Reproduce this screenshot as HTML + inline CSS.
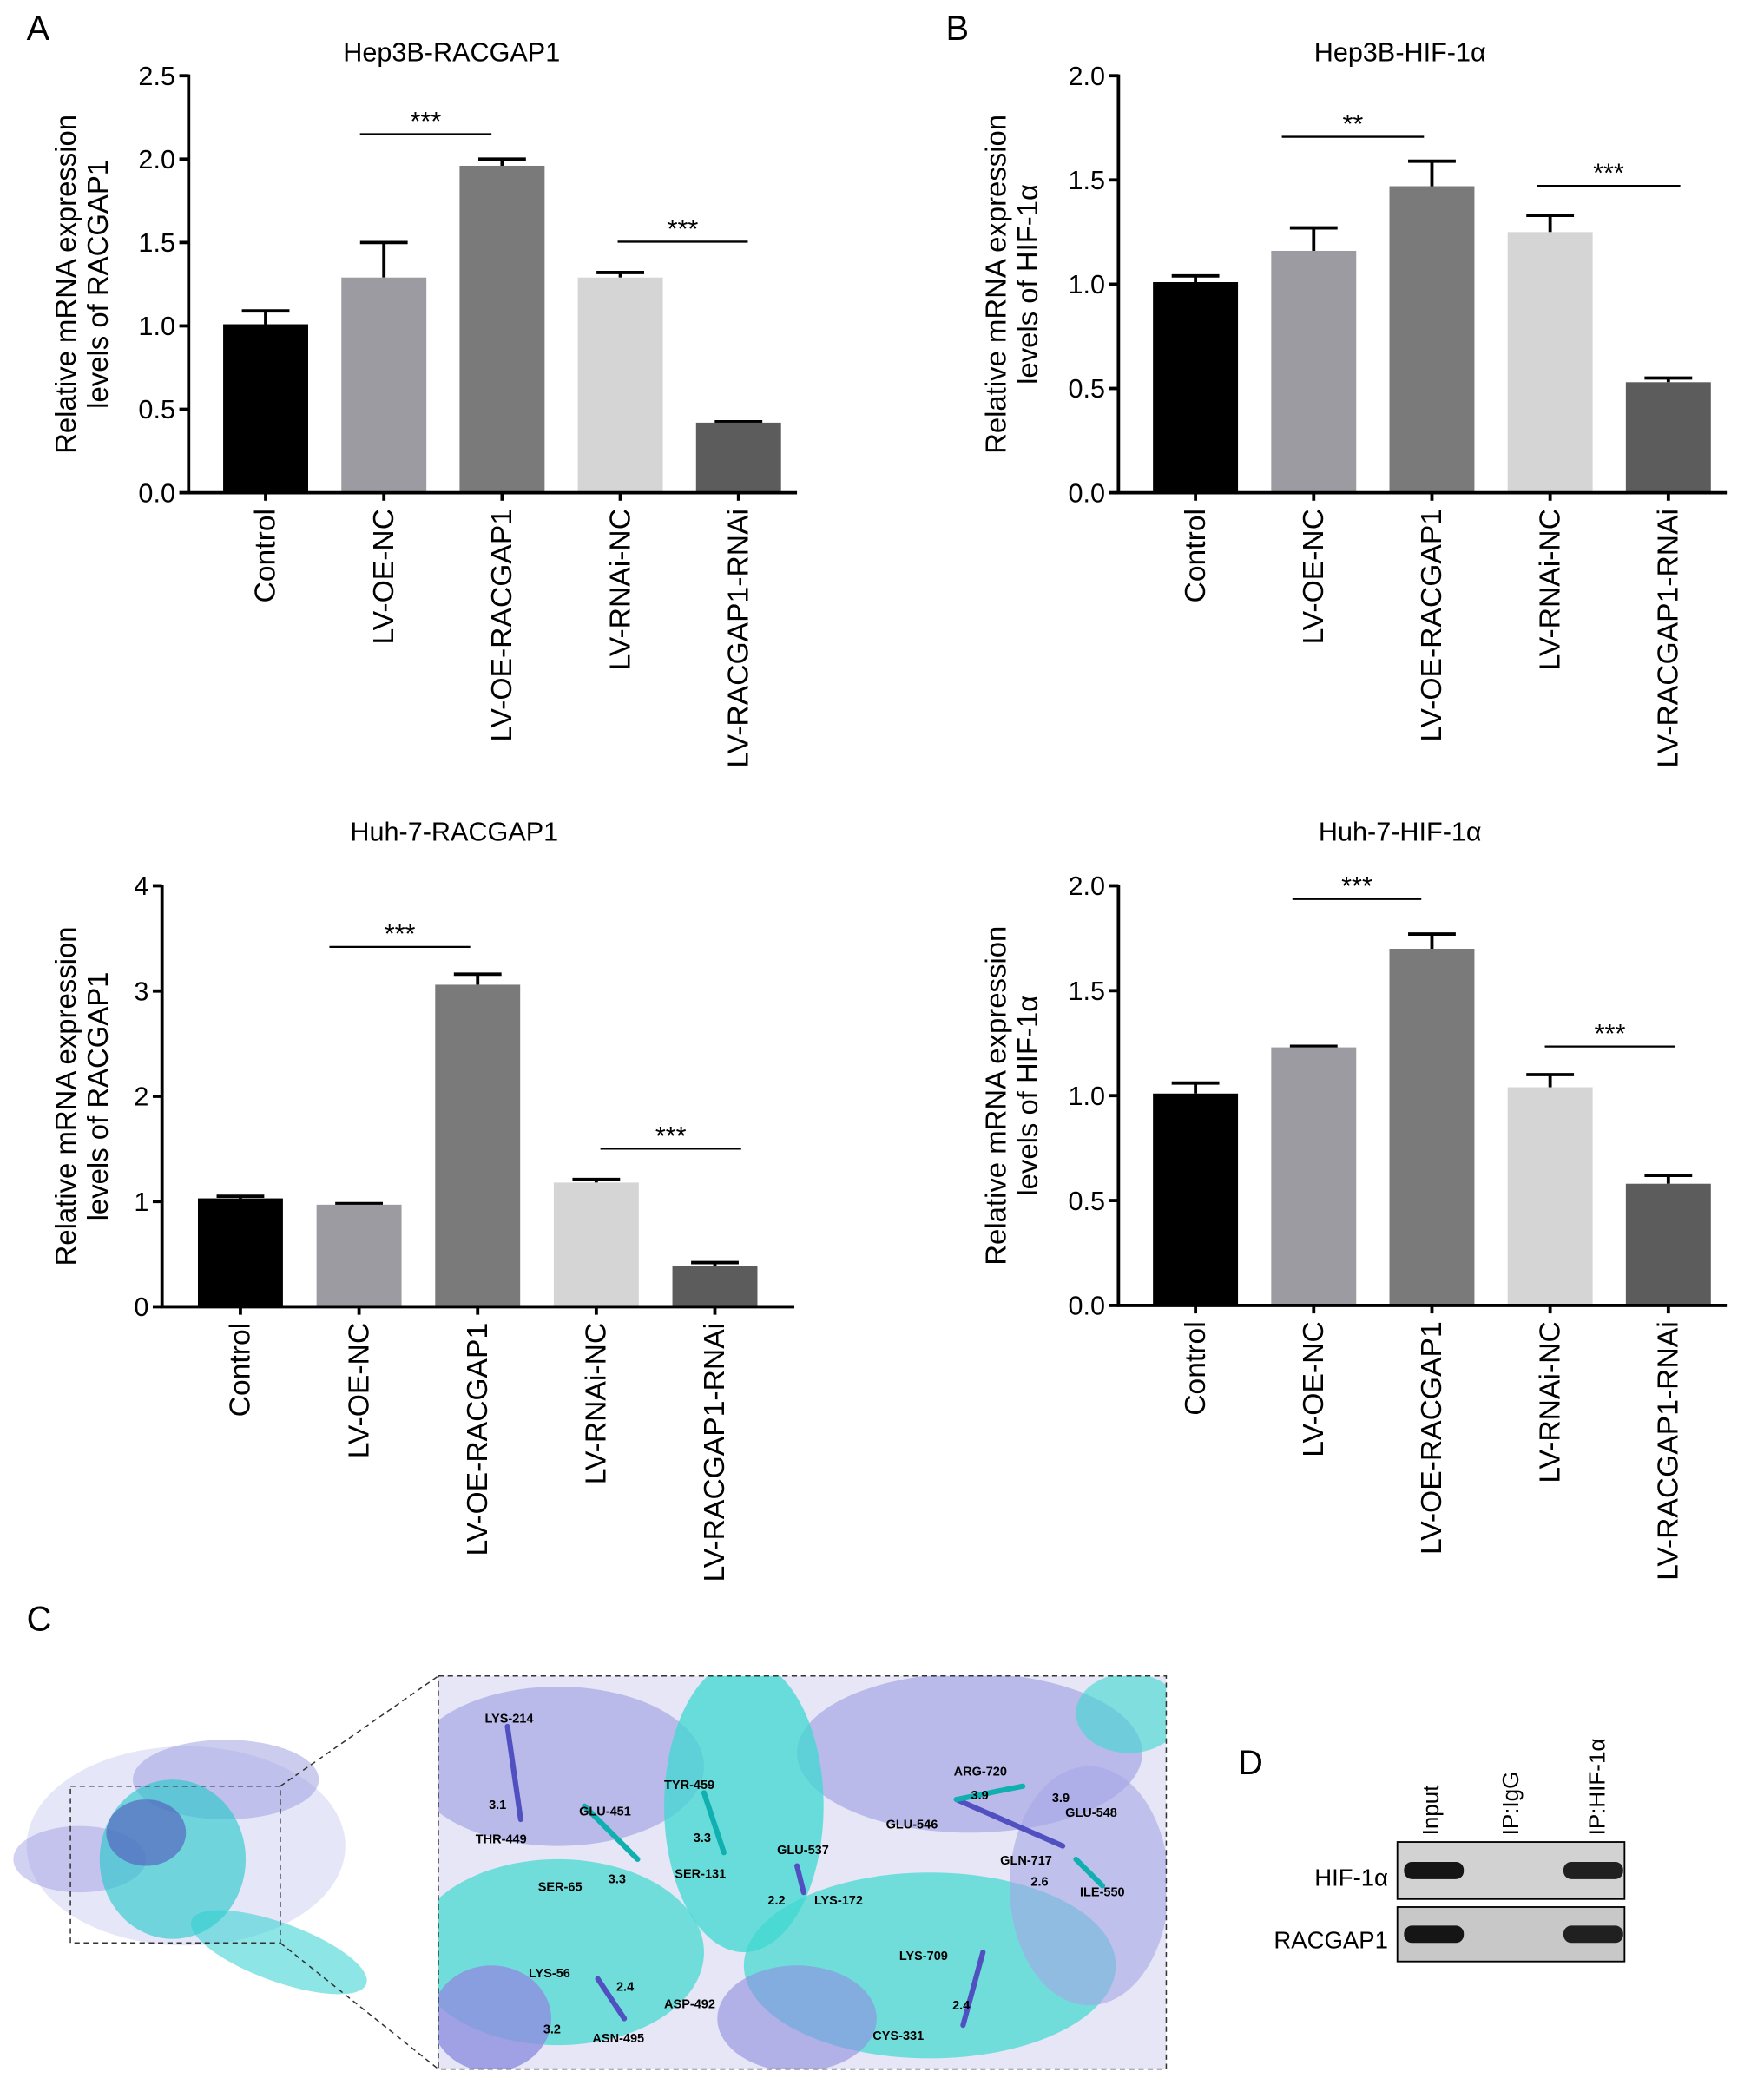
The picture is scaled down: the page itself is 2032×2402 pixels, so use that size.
<!DOCTYPE html>
<html>
<head>
<meta charset="utf-8">
<style>
html,body{margin:0;padding:0;background:#fff;}
svg{display:block;}
text{font-family:"Liberation Sans",sans-serif;fill:#000;}
</style>
</head>
<body>
<svg id="fig" width="2032" height="2402" viewBox="0 0 1328 1570" preserveAspectRatio="none" xmlns="http://www.w3.org/2000/svg">
  <rect x="0" y="0" width="1328" height="1570" fill="#fff"/>
  <text x="20" y="30" font-size="26">A</text>
  <text x="712" y="30" font-size="26">B</text>
  <text x="20" y="1228" font-size="26">C</text>
  <text x="932" y="1336" font-size="26">D</text>
  <g id="charts"></g>

  <!-- Panel C -->
  <g>
    <ellipse cx="140" cy="1390" rx="120" ry="75" fill="#b8b8ee" opacity="0.35"/>
    <ellipse cx="170" cy="1340" rx="70" ry="30" fill="#9a9ae0" opacity="0.5"/>
    <ellipse cx="60" cy="1400" rx="50" ry="25" fill="#9a9ae0" opacity="0.45"/>
    <ellipse cx="130" cy="1400" rx="55" ry="60" fill="#20c8c8" opacity="0.6"/>
    <ellipse cx="210" cy="1470" rx="70" ry="22" fill="#30d0d0" opacity="0.55" transform="rotate(20 210 1470)"/>
    <ellipse cx="110" cy="1380" rx="30" ry="25" fill="#5555bb" opacity="0.6"/>
    <rect x="53" y="1345" width="158" height="118" fill="none" stroke="#333" stroke-dasharray="4,3" stroke-width="1"/>
    <line x1="211" y1="1345" x2="330" y2="1262" stroke="#333" stroke-dasharray="4,3"/>
    <line x1="211" y1="1463" x2="330" y2="1558" stroke="#333" stroke-dasharray="4,3"/>
  </g>
  <g>
    <defs><clipPath id="zc"><rect x="330" y="1262" width="548" height="296"/></clipPath></defs>
    <g clip-path="url(#zc)">
      <rect x="330" y="1262" width="548" height="296" fill="#e6e6f6"/>
      <ellipse cx="420" cy="1330" rx="110" ry="60" fill="#a6a6e6" opacity="0.7"/>
      <ellipse cx="730" cy="1320" rx="130" ry="60" fill="#a6a6e6" opacity="0.7"/>
      <ellipse cx="560" cy="1360" rx="60" ry="110" fill="#3ed8d0" opacity="0.75"/>
      <ellipse cx="420" cy="1470" rx="110" ry="70" fill="#3ed8d0" opacity="0.7"/>
      <ellipse cx="700" cy="1480" rx="140" ry="70" fill="#3ed8d0" opacity="0.7"/>
      <ellipse cx="820" cy="1420" rx="60" ry="90" fill="#a6a6e6" opacity="0.6"/>
      <ellipse cx="370" cy="1520" rx="45" ry="40" fill="#8e8ee0" opacity="0.8"/>
      <ellipse cx="600" cy="1520" rx="60" ry="40" fill="#8e8ee0" opacity="0.6"/>
      <ellipse cx="850" cy="1290" rx="40" ry="30" fill="#3ed8d0" opacity="0.6"/>
      <g stroke-width="4" stroke-linecap="round">
        <line x1="382" y1="1300" x2="392" y2="1370" stroke="#5050c0"/>
        <line x1="440" y1="1360" x2="480" y2="1400" stroke="#10b0b0"/>
        <line x1="530" y1="1350" x2="545" y2="1395" stroke="#10b0b0"/>
        <line x1="600" y1="1405" x2="605" y2="1425" stroke="#5050c0"/>
        <line x1="720" y1="1355" x2="800" y2="1390" stroke="#5050c0"/>
        <line x1="720" y1="1355" x2="770" y2="1345" stroke="#10b0b0"/>
        <line x1="450" y1="1490" x2="470" y2="1520" stroke="#5050c0"/>
        <line x1="740" y1="1470" x2="725" y2="1525" stroke="#5050c0"/>
        <line x1="810" y1="1400" x2="830" y2="1420" stroke="#10b0b0"/>
      </g>
      <g font-size="9.5" font-weight="bold">
        <text x="365" y="1297">LYS-214</text><text x="368" y="1362">3.1</text>
        <text x="358" y="1388">THR-449</text><text x="436" y="1367">GLU-451</text>
        <text x="405" y="1424">SER-65</text><text x="458" y="1418">3.3</text>
        <text x="500" y="1347">TYR-459</text><text x="522" y="1387">3.3</text>
        <text x="508" y="1414">SER-131</text><text x="585" y="1396">GLU-537</text>
        <text x="578" y="1434">2.2</text><text x="613" y="1434">LYS-172</text>
        <text x="718" y="1337">ARG-720</text><text x="731" y="1355">3.9</text>
        <text x="792" y="1357">3.9</text><text x="802" y="1368">GLU-548</text>
        <text x="667" y="1377">GLU-546</text><text x="753" y="1404">GLN-717</text>
        <text x="776" y="1420">2.6</text><text x="813" y="1428">ILE-550</text>
        <text x="398" y="1489">LYS-56</text><text x="464" y="1499">2.4</text>
        <text x="500" y="1512">ASP-492</text><text x="409" y="1531">3.2</text>
        <text x="446" y="1538">ASN-495</text><text x="677" y="1476">LYS-709</text>
        <text x="717" y="1513">2.4</text><text x="657" y="1536">CYS-331</text>
      </g>
    </g>
    <rect x="330" y="1262" width="548" height="296" fill="none" stroke="#333" stroke-dasharray="4,3"/>
  </g>

  <!-- Panel D -->
  <g>
    <text x="1083" y="1382" font-size="17" transform="rotate(-90 1083 1382)">Input</text>
    <text x="1143" y="1382" font-size="17" transform="rotate(-90 1143 1382)">IP:IgG</text>
    <text x="1208" y="1382" font-size="17" transform="rotate(-90 1208 1382)">IP:HIF-1α</text>
    <text x="1045" y="1420" font-size="18" text-anchor="end">HIF-1α</text>
    <text x="1045" y="1467" font-size="18" text-anchor="end">RACGAP1</text>
    <rect x="1052" y="1387" width="171" height="43" fill="#d2d2d2" stroke="#000" stroke-width="1.2"/>
    <rect x="1052" y="1436" width="171" height="41" fill="#c8c8c8" stroke="#000" stroke-width="1.2"/>
    <rect x="1057" y="1402" width="45" height="13" rx="6" fill="#151515"/>
    <rect x="1177" y="1402" width="45" height="13" rx="6" fill="#202020"/>
    <rect x="1057" y="1450" width="45" height="13" rx="6" fill="#151515"/>
    <rect x="1177" y="1450" width="45" height="13" rx="6" fill="#202020"/>
  </g>
</svg>
<script>
const catLabels = ["Control","LV-OE-NC","LV-OE-RACGAP1","LV-RNAi-NC","LV-RACGAP1-RNAi"];
const barColors = ["#000000","#9b9ba1","#7a7a7a","#d5d5d5","#5c5c5c"];

const aVals = [1.01, 1.29, 1.96, 1.29, 0.42];
const aErrs = [0.08, 0.21, 0.04, 0.03, 0.005];
const aTicks = ["0.0","0.5","1.0","1.5","2.0","2.5"];
const bVals = [1.01, 1.16, 1.47, 1.25, 0.53];
const bErrs = [0.03, 0.11, 0.12, 0.08, 0.02];
const bTicks = ["0.0","0.5","1.0","1.5","2.0"];
const cVals = [1.03, 0.97, 3.06, 1.18, 0.39];
const cErrs = [0.02, 0.01, 0.10, 0.03, 0.03];
const cTicks = ["0","1","2","3","4"];
const dVals = [1.01, 1.23, 1.70, 1.04, 0.58];
const dErrs = [0.05, 0.005, 0.07, 0.06, 0.04];
const dTicks = ["0.0","0.5","1.0","1.5","2.0"];

const NS = "http://www.w3.org/2000/svg";
const root = document.getElementById("charts");
function mk(tag, attrs, parent){
  const e = document.createElementNS(NS, tag);
  for (const k in attrs) e.setAttribute(k, attrs[k]);
  parent.appendChild(e);
  return e;
}

function chart(cfg){
  const g = mk("g", {}, root);
  
  
  const tickVals = cfg.ticks.map(Number);
  const maxV = tickVals[tickVals.length-1];
  const y = v => cfg.y0 - (v / maxV) * (cfg.y0 - cfg.yTop);
  const x = i => cfg.x0 + cfg.firstOff + i * cfg.step;
  const bw = 64;
  cfg.vals.forEach((v,i)=>{
    const cx = x(i);
    const top = y(v), eTop = y(v + cfg.errs[i]);
    const ln = mk("line",{x1:cx,x2:cx,y1:top,y2:eTop,stroke:"#000","stroke-width":2.5},g);
    
    
    const cap = mk("line",{x1:cx-bw*0.28,x2:cx+bw*0.28,y1:eTop,y2:eTop,stroke:"#000","stroke-width":2.5},g);
    
    
    const r = mk("rect",{x:cx-bw/2,y:top,width:bw,height:cfg.y0-top,fill:barColors[i]},g);
    
    
    const t = mk("text",{x:cx+7,y:cfg.y0+12,"font-size":22,"text-anchor":"end",transform:`rotate(-90 ${cx+7} ${cfg.y0+12})`},g);
    t.textContent = catLabels[i];
    
    
    mk("line",{x1:cx,x2:cx,y1:cfg.y0,y2:cfg.y0+6,stroke:"#000","stroke-width":2.5},g);
  });
  const ya = mk("line",{x1:cfg.x0,x2:cfg.x0,y1:cfg.yTop-1,y2:cfg.y0,stroke:"#000","stroke-width":2.5},g);
  
  
  const xa = mk("line",{x1:cfg.x0-1,x2:cfg.xEnd,y1:cfg.y0,y2:cfg.y0,stroke:"#000","stroke-width":2.5},g);
  
  
  cfg.ticks.forEach((tk,i)=>{
    const yy = y(tickVals[i]);
    mk("line",{x1:cfg.x0-7,x2:cfg.x0,y1:yy,y2:yy,stroke:"#000","stroke-width":2.5},g);
    const t = mk("text",{x:cfg.x0-10,y:yy+7,"font-size":20,"text-anchor":"end"},g);
    t.textContent = tk;
    
    
  });
  const tt = mk("text",{x:cfg.titleX,y:cfg.titleY,"font-size":20,"text-anchor":"middle"},g);
  tt.textContent = cfg.title;
  
  
  const my = (cfg.y0 + cfg.yTop)/2;
  const l1 = mk("text",{x:cfg.ylX,y:my,"font-size":21.5,"text-anchor":"middle",transform:`rotate(-90 ${cfg.ylX} ${my})`},g);
  l1.textContent = "Relative mRNA expression";
  
  
  const l2 = mk("text",{x:cfg.ylX+24,y:my,"font-size":21.5,"text-anchor":"middle",transform:`rotate(-90 ${cfg.ylX+24} ${my})`},g);
  l2.textContent = cfg.ylab2;
  
  
  cfg.sig.forEach(s=>{
    const sl = mk("line",{x1:s[0],x2:s[1],y1:s[2],y2:s[2],stroke:"#000","stroke-width":1.5},g);
    
    
    const st = mk("text",{x:(s[0]+s[1])/2,y:s[2]-3,"font-size":20,"text-anchor":"middle"},g);
    st.textContent = s[3];
    
    
  });
}

chart({name:"chart-hep3b-racgap1",vals:aVals,errs:aErrs,ticks:aTicks,x0:142,xEnd:600,y0:371,yTop:57,firstOff:58,step:89,
  title:"Hep3B-RACGAP1",titleX:340,titleY:46,ylX:57,ylab2:"levels of RACGAP1",
  sig:[[271,370,101,"***"],[465,563,182,"***"]]});
chart({name:"chart-hep3b-hif1a",vals:bVals,errs:bErrs,ticks:bTicks,x0:842,xEnd:1300,y0:371,yTop:57,firstOff:58,step:89,
  title:"Hep3B-HIF-1α",titleX:1054,titleY:46,ylX:757,ylab2:"levels of HIF-1α",
  sig:[[965,1072,103,"**"],[1157,1265,140,"***"]]});
chart({name:"chart-huh7-racgap1",vals:cVals,errs:cErrs,ticks:cTicks,x0:122,xEnd:598,y0:984,yTop:667,firstOff:59,step:89.3,
  title:"Huh-7-RACGAP1",titleX:342,titleY:633,ylX:57,ylab2:"levels of RACGAP1",
  sig:[[248,354,713,"***"],[452,558,865,"***"]]});
chart({name:"chart-huh7-hif1a",vals:dVals,errs:dErrs,ticks:dTicks,x0:842,xEnd:1300,y0:983,yTop:667,firstOff:58,step:89,
  title:"Huh-7-HIF-1α",titleX:1054,titleY:633,ylX:757,ylab2:"levels of HIF-1α",
  sig:[[973,1070,677,"***"],[1163,1261,788,"***"]]});
</script>
</body>
</html>
